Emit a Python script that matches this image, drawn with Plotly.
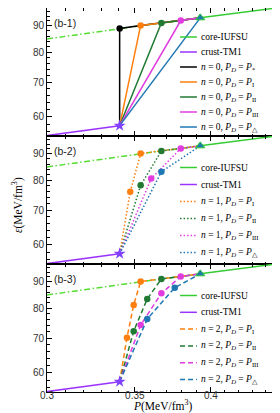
import math
import plotly.graph_objects as go
from plotly.subplots import make_subplots

# ---------------- data ----------------
# core EoS (IUFSU): pressure [MeV/fm^3], energy density [MeV/fm^3]
P_core = [0.300, 0.3408, 0.3536, 0.3667, 0.3794, 0.3926, 0.450]
E_core = [84.9, 89.0, 90.2, 91.2, 92.2, 93.3, 97.6]
# crust EoS (TM1)
P_crust = [0.300, 0.3408]
E_crust = [55.1, 57.6]
# position (in core arrays) of P*, PI, PII, PIII, P_triangle
PD_index = [1, 2, 3, 4, 5]
PD_names = ["*", "I", "II", "III", "△"]

# n = 1 intermediate points for PD = PI, PII, PIII, P_triangle
n1_P = [[0.3472], [0.3536], [0.3602], [0.3667]]
n1_E = [[76.0], [78.2], [80.6], [83.1]]
# n = 2 intermediate points for PD = PI, PII, PIII, P_triangle
n2_P = [[0.3452, 0.3493], [0.3493, 0.3577], [0.3536, 0.3667], [0.3577, 0.3754]]
n2_E = [[70.1, 81.2], [72.2, 83.4], [74.2, 85.5], [76.2, 87.7]]

x_tickvals = [0.30, 0.35, 0.40, 0.45]
x_ticktext = ["0.3", "0.35", "0.4", "0.45"]
x_minor = [0.31, 0.32, 0.33, 0.34, 0.36, 0.37, 0.38, 0.39, 0.41, 0.42, 0.43, 0.44]
y_tickvals = [60, 70, 80, 90]
y_minor = [56, 58, 62, 64, 66, 68, 72, 74, 76, 78, 82, 84, 86, 88, 92, 94, 96]
panel_labels = ["(b-1)", "(b-2)", "(b-3)"]
x_range = [0.30, 0.45]
y_range = [55.0, 97.5]

# ---------------- styles ----------------
C_CORE = "#33cc33"
C_CORE_EXT = "#55dd33"
C_CRUST = "#9933ff"
C_STAR = "#8040ff"
series_colors = ["black", "#ff7f0e", "#217a33", "#e03ce0", "#1f77b4"]
dash_by_n = ["solid", "1.5px,2px", "5px,3px"]
LW = 1.5
SERIF = "Liberation Serif"
SANS = "Liberation Sans"

fig = make_subplots(rows=3, cols=1, shared_xaxes=True, vertical_spacing=0)

TRI = PD_index[-1]


def legend_label(n, k):
    return ("<i>n</i> = %d, <i>P<sub>D</sub></i> = <i>P</i><sub>%s</sub>"
            % (n, PD_names[k]))


for row, n in enumerate([0, 1, 2], start=1):
    # core extension (dash-dot) and core (solid)
    fig.add_trace(go.Scatter(x=P_core[:TRI + 1], y=E_core[:TRI + 1], mode="lines",
                             line=dict(color=C_CORE_EXT, width=LW,
                                       dash="6px,2.5px,1.5px,2.5px"),
                             hoverinfo="skip"), row=row, col=1)
    fig.add_trace(go.Scatter(x=P_core[TRI:], y=E_core[TRI:], mode="lines",
                             line=dict(color=C_CORE, width=LW), name="core-IUFSU"),
                  row=row, col=1)
    fig.add_trace(go.Scatter(x=P_crust, y=E_crust, mode="lines",
                             line=dict(color=C_CRUST, width=LW), name="crust-TM1"),
                  row=row, col=1)

    if n == 0:
        ks = [0, 1, 2, 3, 4]
        inter_P = [[] for _ in ks]
        inter_E = [[] for _ in ks]
    elif n == 1:
        ks = [1, 2, 3, 4]
        inter_P, inter_E = n1_P, n1_E
    else:
        ks = [1, 2, 3, 4]
        inter_P, inter_E = n2_P, n2_E

    for j, k in enumerate(ks):
        idx = PD_index[k]
        xs = [P_crust[-1]] + inter_P[j] + P_core[idx:TRI + 1]
        ys = [E_crust[-1]] + inter_E[j] + E_core[idx:TRI + 1]
        col = series_colors[k]
        fig.add_trace(go.Scatter(x=xs, y=ys, mode="lines",
                                 line=dict(color=col, width=LW, dash=dash_by_n[n]),
                                 name=legend_label(n, k)), row=row, col=1)
        mx = inter_P[j] + [P_core[idx]]
        my = inter_E[j] + [E_core[idx]]
        syms = ["circle"] * len(mx)
        if idx == TRI:
            syms[-1] = "triangle-up"
        fig.add_trace(go.Scatter(x=mx, y=my, mode="markers",
                                 marker=dict(color=col, size=6.5, symbol=syms,
                                             line=dict(width=0)),
                                 hoverinfo="skip"), row=row, col=1)

    # junction markers
    fig.add_trace(go.Scatter(x=[P_core[TRI]], y=[E_core[TRI]], mode="markers",
                             marker=dict(symbol="triangle-up", size=8, color="#1f77b4",
                                         line=dict(color=C_CORE, width=1)),
                             hoverinfo="skip"), row=row, col=1)
    fig.add_trace(go.Scatter(x=[P_crust[-1]], y=[E_crust[-1]], mode="markers",
                             marker=dict(symbol="star", size=9, color=C_STAR,
                                         line=dict(width=0)),
                             hoverinfo="skip"), row=row, col=1)

    # axes
    fig.update_xaxes(type="log", range=[math.log10(x_range[0]), math.log10(x_range[1])],
                     tickmode="array", tickvals=x_tickvals, ticktext=x_ticktext,
                     ticks="inside", ticklen=5, tickcolor="black", tickwidth=1,
                     minor=dict(tickmode="array", tickvals=x_minor, ticks="inside",
                                ticklen=2.5, tickcolor="black", tickwidth=1),
                     showline=True, linecolor="black", linewidth=1, mirror="allticks",
                     showgrid=False, zeroline=False, showticklabels=(row == 3),
                     ticklabelstandoff=-6,
                     tickfont=dict(family=SANS, size=10, color="#333"),
                     row=row, col=1)
    fig.update_yaxes(type="log", range=[math.log10(y_range[0]), math.log10(y_range[1])],
                     tickmode="array", tickvals=y_tickvals,
                     ticktext=[str(v) for v in y_tickvals],
                     ticks="inside", ticklen=5, tickcolor="black", tickwidth=1,
                     minor=dict(tickmode="array", tickvals=y_minor, ticks="inside",
                                ticklen=2.5, tickcolor="black", tickwidth=1),
                     showline=True, linecolor="black", linewidth=1, mirror="allticks",
                     showgrid=False, zeroline=False,
                     tickfont=dict(family=SANS, size=10, color="#333"),
                     row=row, col=1)

    # manual legend
    xsuf = "" if row == 1 else str(row)
    xref = "x%s domain" % xsuf
    yref = "y%s domain" % xsuf
    labels = ["core-IUFSU", "crust-TM1"] + [legend_label(n, k) for k in ks]
    lcolors = [C_CORE, C_CRUST] + [series_colors[k] for k in ks]
    ldash = ["solid", "solid"] + [dash_by_n[n]] * len(ks)
    if n == 0:
        top, step = 29.0, 15.0
    elif n == 1:
        top, step = 31.5, 17.0
    else:
        top, step = 31.5, 16.8
    for i, (lab, c, d) in enumerate(zip(labels, lcolors, ldash)):
        yy = 1 - (top + step * i) / 128.0
        fig.add_shape(type="line", xref=xref, yref=yref, x0=0.576, x1=0.649,
                      y0=yy, y1=yy, line=dict(color=c, width=LW, dash=d))
        fig.add_annotation(xref=xref, yref=yref, x=0.656, y=yy, text=lab,
                           showarrow=False, xanchor="left", yanchor="middle",
                           font=dict(family=SERIF, size=9.5, color="black"))
    # panel label
    fig.add_annotation(xref=xref, yref=yref, x=0.02, y=1 - 14.5 / 128.0,
                       text=panel_labels[row - 1], showarrow=False,
                       xanchor="left", yanchor="middle",
                       font=dict(family=SANS, size=10.5, color="#222"))

# axis titles
fig.add_annotation(xref="paper", yref="paper", x=-0.125, y=0.487,
                   text="<i>ε</i>(MeV/fm<sup>3</sup>)", textangle=-90,
                   showarrow=False, xanchor="center", yanchor="middle",
                   font=dict(family=SERIF, size=11.5, color="black"))
fig.add_annotation(xref="paper", yref="paper", x=0.5, y=-0.036,
                   text="<i>P</i>(MeV/fm<sup>3</sup>)",
                   showarrow=False, xanchor="center", yanchor="middle",
                   borderpad=0,
                   font=dict(family=SERIF, size=11.5, color="black"))

fig.update_layout(template="none", width=280, height=413,
                  margin=dict(l=39, r=10, t=0, b=29),
                  showlegend=False, plot_bgcolor="white", paper_bgcolor="white",
                  font=dict(family=SANS, size=10))

fig.write_html("out.html")
